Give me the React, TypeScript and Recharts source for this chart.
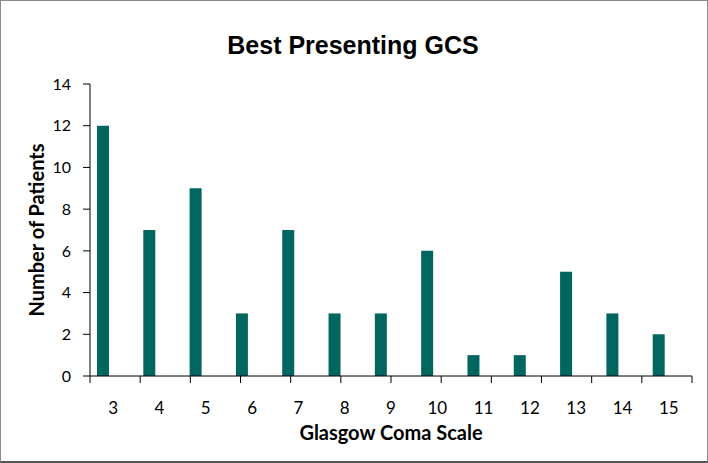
import { BarChart, Bar, XAxis, YAxis } from "recharts"

const gcsScores = ["3", "4", "5", "6", "7", "8", "9", "10", "11", "12", "13", "14", "15"]
const patientCounts = [12, 7, 9, 3, 7, 3, 3, 6, 1, 1, 5, 3, 2]
const yTicks = [0, 2, 4, 6, 8, 10, 12, 14]
const categoryEdges = [0, 1, 2, 3, 4, 5, 6, 7, 8, 9, 10, 11, 12, 13]

const data = gcsScores.map((gcs, i) => ({ gcs, patients: patientCounts[i], spacer: null }))

const bodyFont = "Lato, 'Open Sans', sans-serif"

export default function App() {
  return (
    <div
      style={{
        position: "absolute",
        left: 0,
        top: 0,
        width: 708,
        height: 463,
        boxSizing: "border-box",
        border: "1px solid #8a8a8a",
        borderBottom: "2px solid #555",
        background: "#fff",
      }}
    >
      <div
        style={{
          position: "absolute",
          left: -1,
          top: -1,
          width: 708,
          textAlign: "center",
          paddingTop: 31,
          paddingRight: 2,
          boxSizing: "border-box",
          font: "bold 25px 'Liberation Sans', Arial, sans-serif",
          color: "#000",
        }}
      >
        Best Presenting GCS
      </div>
      <BarChart
        width={708}
        height={463}
        data={data}
        margin={{ top: 84, right: 16, left: 0, bottom: 0 }}
        barGap={8}
        barSize={12}
        style={{ position: "absolute", left: -1, top: -1 }}
      >
        {/* tick marks sit on category boundaries, like Excel */}
        <XAxis
          xAxisId={0}
          type="number"
          domain={[0, 13]}
          ticks={categoryEdges}
          allowDataOverflow
          interval={0}
          tick={() => <g />}
          tickLine={{ stroke: "#000" }}
          tickSize={7}
          height={10}
          stroke="#000"
        />
        <XAxis
          xAxisId={1}
          dataKey="gcs"
          axisLine={false}
          tickLine={false}
          height={77}
          tickMargin={10}
          tick={{ fontSize: 17, fill: "#000", fontFamily: bodyFont }}
          label={{
            value: "Glasgow Coma Scale",
            position: "insideBottom",
            offset: 23,
            style: { fontSize: 20, fontWeight: 700, fill: "#000", fontFamily: bodyFont },
          }}
        />
        <YAxis
          width={90}
          domain={[0, 14]}
          ticks={yTicks}
          tickSize={7}
          tickMargin={12}
          stroke="#000"
          tick={{ fontSize: 16, fill: "#000", fontFamily: bodyFont }}
          label={{
            value: "Number of Patients",
            angle: -90,
            position: "insideLeft",
            offset: 37,
            style: { textAnchor: "middle", fontSize: 20, fontWeight: 700, fill: "#000", fontFamily: bodyFont },
          }}
        />
        <Bar xAxisId={1} dataKey="patients" fill="#00665f" isAnimationActive={false} />
        <Bar xAxisId={1} dataKey="spacer" fill="#00665f" isAnimationActive={false} />
      </BarChart>
    </div>
  )
}
